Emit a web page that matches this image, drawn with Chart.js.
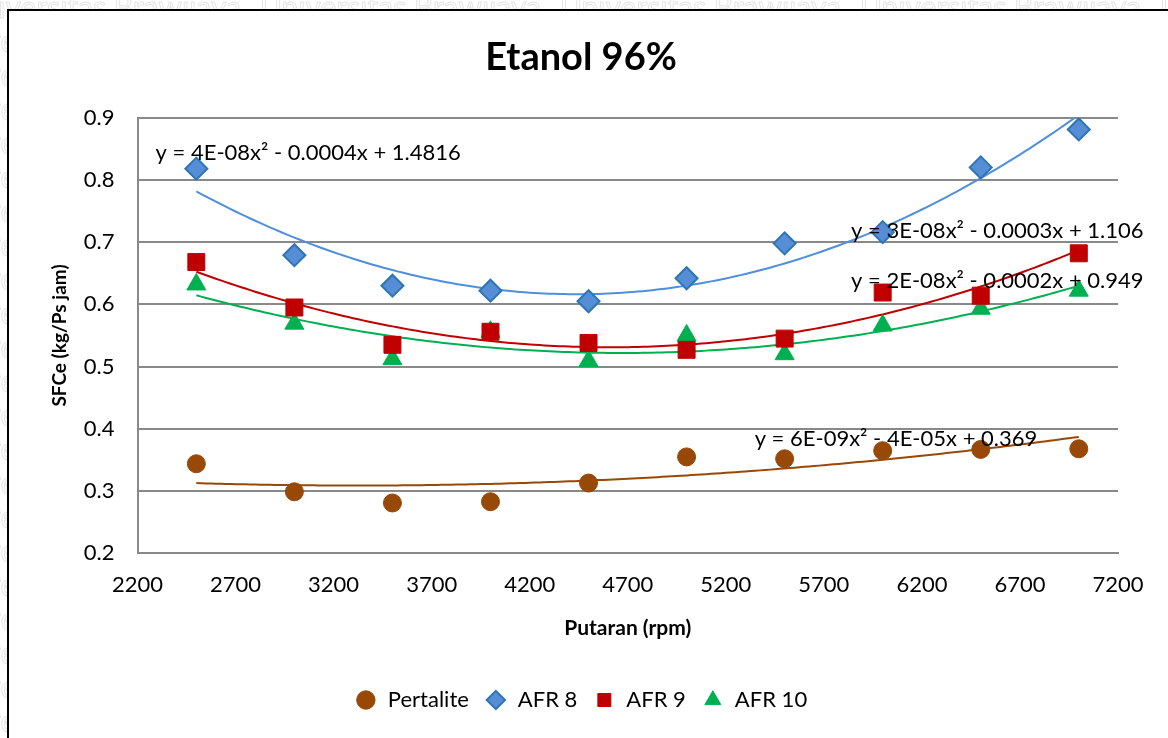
<!DOCTYPE html>
<html>
<head>
<meta charset="utf-8">
<script src="https://cdn.jsdelivr.net/npm/chart.js@4"></script>
<style>
  html, body { margin: 0; padding: 0; background: #fff; }
  #wrap { width: 1168px; height: 738px; }
</style>
</head>
<body>
<div id="wrap"><canvas id="chart" width="1168" height="738"></canvas></div>
<script>
// putaran (rpm)
const rpm = [2500, 3000, 3500, 4000, 4500, 5000, 5500, 6000, 6500, 7000];

// SFCe values
const pertalite = [0.344, 0.299, 0.281, 0.283, 0.313, 0.355, 0.352, 0.365, 0.367, 0.368];
const afr8      = [0.818, 0.679, 0.630, 0.622, 0.605, 0.642, 0.698, 0.716, 0.820, 0.881];
const afr9      = [0.668, 0.595, 0.535, 0.556, 0.538, 0.527, 0.545, 0.619, 0.614, 0.682];
const afr10     = [0.632, 0.569, 0.512, 0.556, 0.509, 0.550, 0.520, 0.566, 0.593, 0.622];

const xTicks = [2200, 2700, 3200, 3700, 4200, 4700, 5200, 5700, 6200, 6700, 7200];
const yTicks = [0.2, 0.3, 0.4, 0.5, 0.6, 0.7, 0.8, 0.9];

// trendline equation labels as shown by excel, with anchor (x, y) in data units
const eqLabels = [
  { text: 'y = 4E-08x² - 0.0004x + 1.4816', x: 2292, y: 0.844 },
  { text: 'y = 3E-08x² - 0.0003x + 1.106', x: 5839, y: 0.718 },
  { text: 'y = 2E-08x² - 0.0002x + 0.949', x: 5839, y: 0.637 },
  { text: 'y = 6E-09x² - 4E-05x + 0.369', x: 5347, y: 0.384 }
];

const FONT = 'Lato, "Open Sans", sans-serif';

function pts(ys) {
  return rpm.map((x, i) => ({ x: x, y: ys[i] }));
}

// least squares quadratic (x in thousands to keep numbers sane)
function polyFit2(xs, ys) {
  let s = [0, 0, 0, 0, 0], t = [0, 0, 0];
  for (let i = 0; i < xs.length; i++) {
    const x = xs[i] / 1000;
    let p = 1;
    for (let k = 0; k < 5; k++) { s[k] += p; if (k < 3) t[k] += p * ys[i]; p *= x; }
  }
  const m = [[s[0], s[1], s[2], t[0]], [s[1], s[2], s[3], t[1]], [s[2], s[3], s[4], t[2]]];
  for (let c = 0; c < 3; c++) {
    for (let r = c + 1; r < 3; r++) {
      const f = m[r][c] / m[c][c];
      for (let k = c; k < 4; k++) m[r][k] -= f * m[c][k];
    }
  }
  const a = [0, 0, 0];
  for (let r = 2; r >= 0; r--) {
    let v = m[r][3];
    for (let k = r + 1; k < 3; k++) v -= m[r][k] * a[k];
    a[r] = v / m[r][r];
  }
  return x => { const u = x / 1000; return a[0] + a[1] * u + a[2] * u * u; };
}

const trendPlugin = {
  id: 'trend',
  beforeDraw(chart) {
    const ctx = chart.ctx;
    ctx.save();
    // faint watermark strip outside the chart box
    ctx.fillStyle = '#fff';
    ctx.fillRect(0, 0, chart.width, chart.height);
    ctx.font = '30px ' + FONT;
    ctx.strokeStyle = '#e4e4e4';
    ctx.lineWidth = 1;
    for (let row = 0; row < 30; row++) {
      const y = 8 + row * 34;
      const off = row === 0 ? -40 : -60;
      for (let k = 0; k < 6; k++) ctx.strokeText('Universitas Brawijaya', off + k * 300, y);
    }
    ctx.fillStyle = '#fff';
    ctx.fillRect(9, 11, chart.width, chart.height);
    ctx.strokeStyle = '#000';
    ctx.lineWidth = 2;
    ctx.beginPath();
    ctx.moveTo(8, chart.height);
    ctx.lineTo(8, 10);
    ctx.lineTo(chart.width, 10);
    ctx.stroke();
    ctx.restore();
  },
  beforeDatasetsDraw(chart) {
    const ctx = chart.ctx, xs = chart.scales.x, ys = chart.scales.y, area = chart.chartArea;
    ctx.save();
    ctx.beginPath();
    ctx.rect(area.left, area.top, area.right - area.left, area.bottom - area.top);
    ctx.clip();
    chart.data.datasets.forEach(ds => {
      const f = polyFit2(ds.data.map(p => p.x), ds.data.map(p => p.y));
      const x0 = ds.data[0].x, x1 = ds.data[ds.data.length - 1].x;
      ctx.strokeStyle = ds.trendColor;
      ctx.lineWidth = 2;
      ctx.beginPath();
      for (let x = x0; x <= x1; x += 25) {
        const px = xs.getPixelForValue(x), py = ys.getPixelForValue(f(x));
        if (x === x0) ctx.moveTo(px, py); else ctx.lineTo(px, py);
      }
      ctx.stroke();
    });
    ctx.restore();
  },
  afterDatasetsDraw(chart) {
    const ctx = chart.ctx, xs = chart.scales.x, ys = chart.scales.y;
    ctx.save();
    ctx.font = '22px ' + FONT;
    ctx.fillStyle = '#000';
    ctx.textBaseline = 'middle';
    eqLabels.forEach(l => {
      ctx.fillText(l.text, xs.getPixelForValue(l.x), ys.getPixelForValue(l.y));
    });
    ctx.restore();
  }
};

new Chart(document.getElementById('chart'), {
  type: 'scatter',
  data: {
    datasets: [
      { label: 'Pertalite', data: pts(pertalite), pointStyle: 'circle', pointRadius: 9,
        backgroundColor: '#984807', borderColor: '#984807', borderWidth: 1, trendColor: '#984807' },
      { label: 'AFR 8', data: pts(afr8), pointStyle: 'rectRot', pointRadius: 11,
        backgroundColor: '#558ED5', borderColor: '#2E75B6', borderWidth: 2, trendColor: '#4F8FDD' },
      { label: 'AFR 9', data: pts(afr9), pointStyle: 'rect', pointRadius: 12,
        backgroundColor: '#C00000', borderColor: '#C00000', borderWidth: 1, trendColor: '#C00000' },
      { label: 'AFR 10', data: pts(afr10), pointStyle: 'triangle', pointRadius: 11,
        backgroundColor: '#00B050', borderColor: '#00B050', borderWidth: 1, trendColor: '#00B050' }
    ]
  },
  options: {
    responsive: false,
    animation: false,
    layout: { padding: { top: 35, left: 44, right: 50, bottom: 17 } },
    plugins: {
      title: {
        display: true, text: 'Etanol 96%', color: '#000',
        font: { family: FONT, size: 38, weight: 'bold' },
        padding: { top: 0, bottom: 37 }
      },
      legend: {
        position: 'bottom',
        labels: {
          usePointStyle: true, color: '#000', boxHeight: 13, padding: 16,
          font: { family: FONT, size: 22 }
        }
      },
      tooltip: { enabled: false }
    },
    scales: {
      x: {
        type: 'linear', min: 2200, max: 7200,
        afterBuildTicks: ax => { ax.ticks = xTicks.map(v => ({ value: v })); },
        grid: { display: false },
        border: { display: true, color: '#898989', width: 2 },
        ticks: { color: '#000', padding: 10, font: { family: FONT, size: 22 },
                 callback: v => String(v) },
        title: { display: true, text: 'Putaran (rpm)', color: '#000',
                 font: { family: FONT, size: 21, weight: 'bold' }, padding: { top: 8, bottom: 32 } }
      },
      y: {
        min: 0.2, max: 0.9,
        afterBuildTicks: ax => { ax.ticks = yTicks.map(v => ({ value: v })); },
        grid: { color: '#898989', lineWidth: 2, drawTicks: false },
        border: { display: true, color: '#898989', width: 2 },
        ticks: { color: '#000', padding: 23, font: { family: FONT, size: 22 },
                 callback: v => v.toFixed(1) },
        title: { display: true, text: 'SFCe (kg/Ps jam)', color: '#000',
                 font: { family: FONT, size: 19, weight: 'bold' }, padding: { top: 4, bottom: -10 } }
      }
    }
  },
  plugins: [trendPlugin]
});
</script>
</body>
</html>
